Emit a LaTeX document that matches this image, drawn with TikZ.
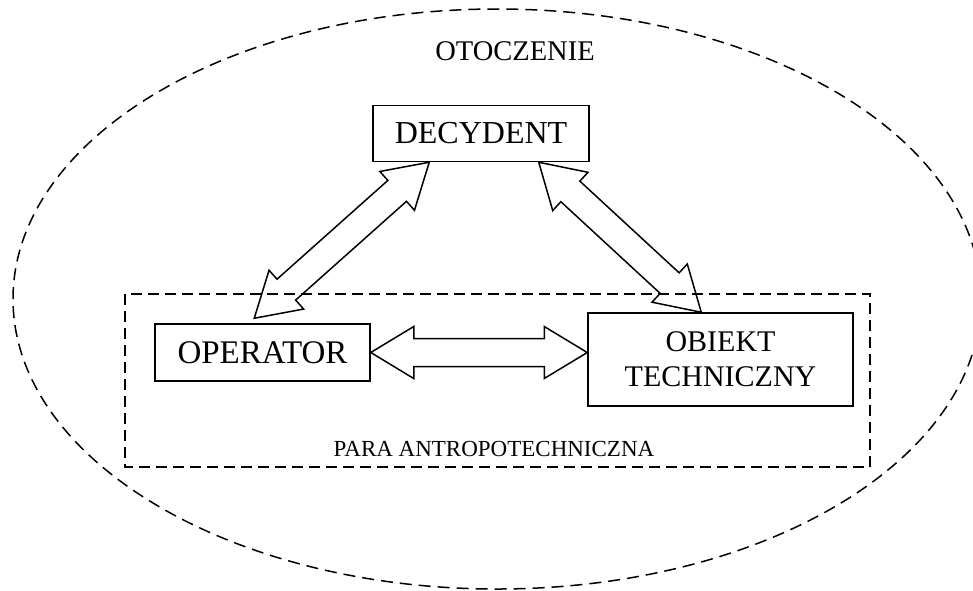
\documentclass[tikz,border=0pt]{standalone}
\usepackage{fontspec}
\setmainfont{Liberation Serif}
\usetikzlibrary{calc}
\newcommand\dblarrow[2]{%
\draw[arr] (#1) -- ($(#1)!43pt!(#2)!26pt!90:(#2)$) -- ($(#1)!43pt!(#2)!14pt!90:(#2)$) -- ($(#2)!43pt!(#1)!14pt!-90:(#1)$) -- ($(#2)!43pt!(#1)!26pt!-90:(#1)$) -- (#2) -- ($(#2)!43pt!(#1)!26pt!90:(#1)$) -- ($(#2)!43pt!(#1)!14pt!90:(#1)$) -- ($(#1)!43pt!(#2)!14pt!-90:(#2)$) -- ($(#1)!43pt!(#2)!26pt!-90:(#2)$) -- cycle;}
\begin{document}
\begin{tikzpicture}[x=1pt,y=-1pt,
  box/.style={draw, line width=1.5pt, inner sep=0pt, align=center, font=\fontsize{32}{35}\selectfont},
  arr/.style={draw, line width=1.5pt, line join=miter},
  dsh/.style={dash pattern=on 12pt off 7pt, line width=1.5pt},
  lbl/.style={inner sep=0pt}]
\useasboundingbox (0,0) rectangle (973,590);
\clip (0,0) rectangle (973,590);
\fill[white] (0,0) rectangle (973,590);
\draw[dsh] (497,299) ellipse [x radius=484, y radius=290];
\node[lbl, font=\fontsize{28.5}{30}\selectfont] (oto) at (515,51) {OTOCZENIE};
\node[box, minimum width=216pt, minimum height=56pt] (dec) at (481,133.5) {DECYDENT};
\node[box, minimum width=215pt, minimum height=57pt, font=\fontsize{33}{35}\selectfont] (op) at (262.5,352.5) {OPERATOR};
\node[box, minimum width=265pt, minimum height=93pt, font=\fontsize{30}{35}\selectfont] (obj) at (720.5,359.5) {OBIEKT\\TECHNICZNY};
\node[lbl, font=\fontsize{23}{24}\selectfont] (para) at (494,449) {PARA ANTROPOTECHNICZNA};
\coordinate (t1) at ($(dec.south west)+(57,0)$);
\coordinate (t2) at ($(op.north west)+(100,-5)$);
\coordinate (t3) at ($(dec.south east)+(-51,0)$);
\coordinate (t4) at ($(obj.north west)+(114,0)$);
\coordinate (t5) at (op.east);
\coordinate (t6) at (op.east -| obj.west);
\dblarrow{t1}{t2}
\dblarrow{t3}{t4}
\dblarrow{t5}{t6}
\draw[dsh, dash pattern=on 11pt off 6pt] (125,294) rectangle (870,467);
\end{tikzpicture}
\end{document}
